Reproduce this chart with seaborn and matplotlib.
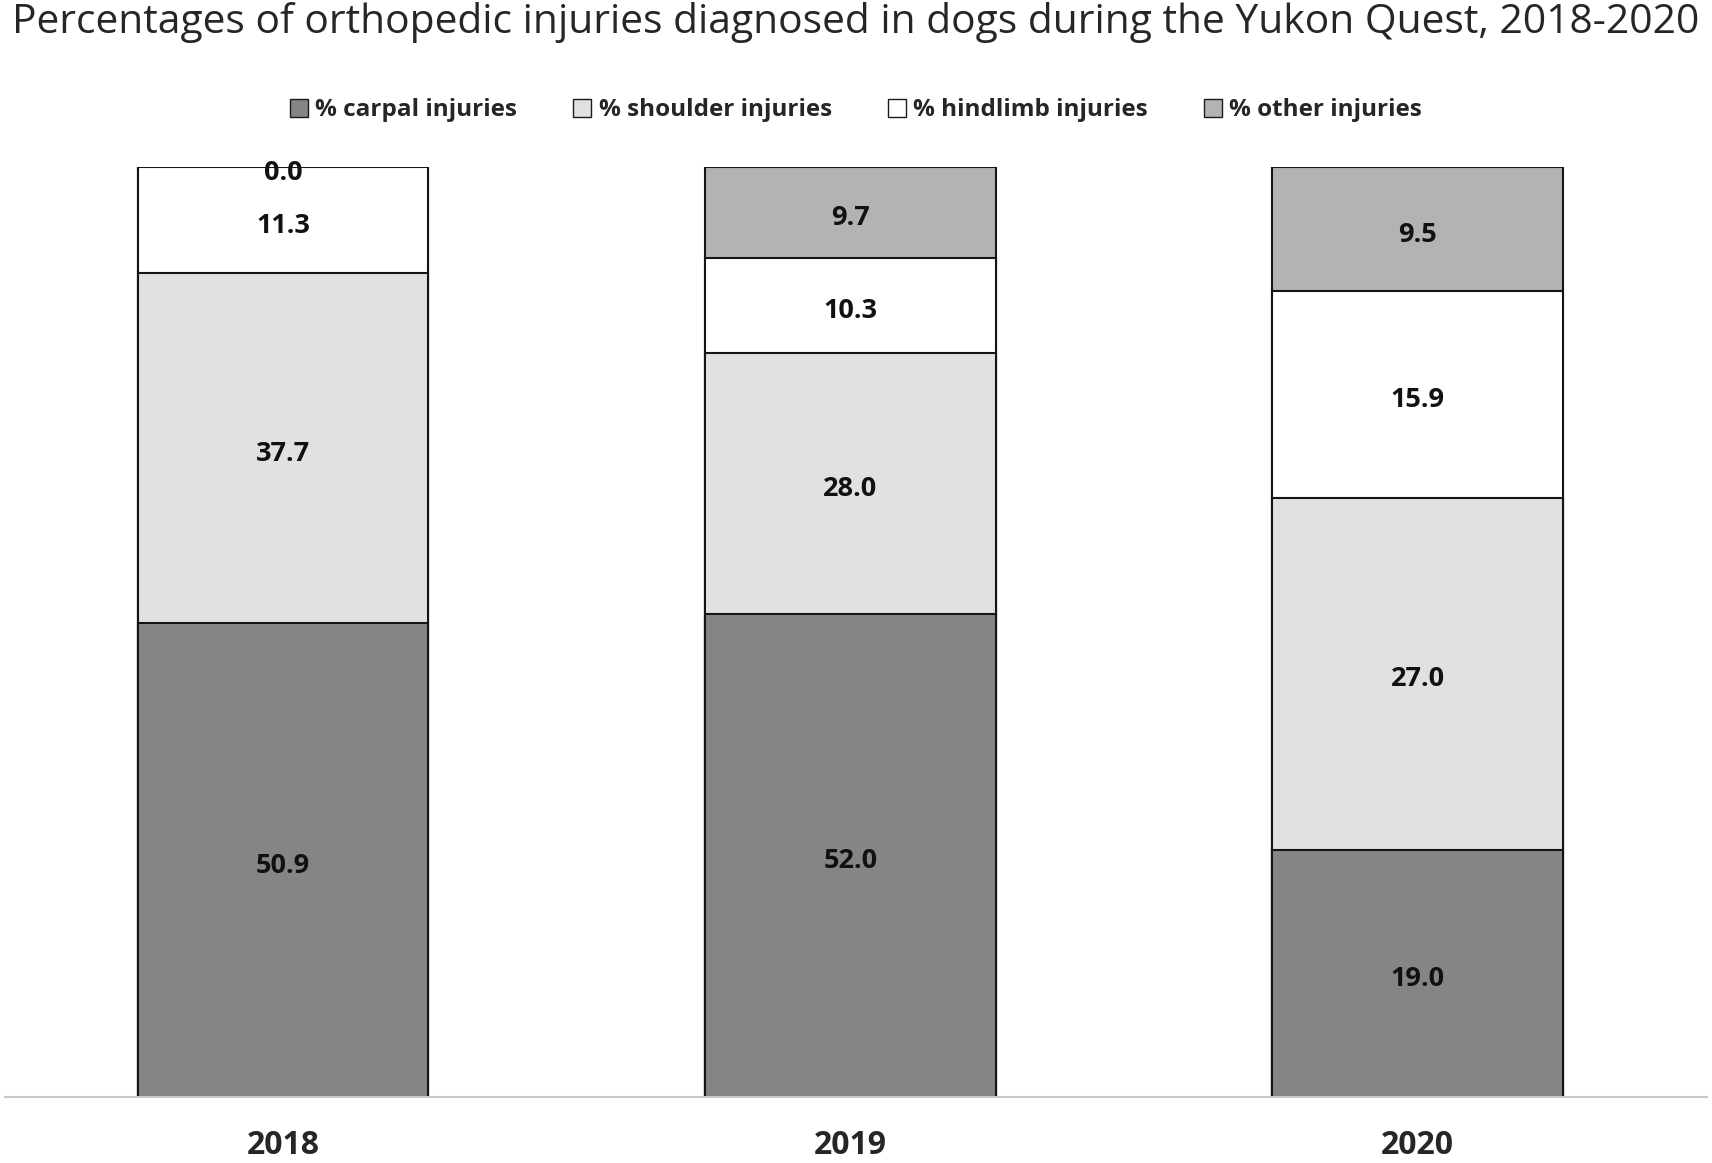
import numpy as np
import pandas as pd
import matplotlib
matplotlib.use('Agg')
import matplotlib.pyplot as plt
import seaborn as sns
from matplotlib.patches import Patch

years = ['2018', '2019', '2020']
categories = ['% carpal injuries', '% shoulder injuries', '% hindlimb injuries', '% other injuries']
carpal = [50.9, 52.0, 19.0]
shoulder = [37.7, 28.0, 27.0]
hindlimb = [11.3, 10.3, 15.9]
other = [0.0, 9.7, 9.5]
colors = ['#858585', '#e1e1e1', '#ffffff', '#b3b3b3']

df = pd.DataFrame({'Year': years, categories[0]: carpal, categories[1]: shoulder,
                   categories[2]: hindlimb, categories[3]: other}).set_index('Year')
# 100% stacked, like the original Excel chart
df_share = df.div(df.sum(axis=1), axis=0) * 100
df_cum = df_share.cumsum(axis=1)

sns.set_style('white')
plt.rcParams['font.family'] = ['Open Sans', 'DejaVu Sans']

fig, ax = plt.subplots(figsize=(17.12, 11.63), dpi=100)
fig.subplots_adjust(left=0.003, right=0.997, bottom=0.0568, top=0.856)

# draw from the top layer down so each bar covers the one above
for cat, col in reversed(list(zip(categories, colors))):
    sns.barplot(x=df_cum.index, y=df_cum[cat].values, ax=ax, color=col,
                edgecolor='#151515', linewidth=1.5, width=0.512, saturation=1)

for i, year in enumerate(years):
    for cat in categories:
        top = df_cum.loc[year, cat]
        h = df_share.loc[year, cat]
        ax.annotate(f'{df.loc[year, cat]:.1f}', (i, top - h / 2), xytext=(0, -4),
                    textcoords='offset points', ha='center', va='center',
                    fontsize=19.5, fontweight='bold', color='#111111')

ax.set_ylim(0, 100)
ax.set_xlim(-0.49, 2.51)
ax.set_yticks([])
ax.set_xlabel('')
ax.set_ylabel('')
for side in ['top', 'left', 'right']:
    ax.spines[side].set_visible(False)
ax.spines['bottom'].set_color('#c8c8c8')
ax.spines['bottom'].set_linewidth(1.5)
ax.tick_params(axis='x', length=0, pad=23)
for lbl in ax.get_xticklabels():
    lbl.set_fontsize(23)
    lbl.set_fontweight('bold')

handles = [Patch(facecolor=c, edgecolor='#1a1a1a', linewidth=1.0) for c in colors]
fig.legend(handles, categories, loc='center', bbox_to_anchor=(0.5, 0.905), ncol=4, frameon=False,
           prop={'size': 17.5, 'weight': 'bold'}, handlelength=0.75, handleheight=0.75,
           handletextpad=0.3, columnspacing=2.3)

fig.suptitle('Percentages of orthopedic injuries diagnosed in dogs during the Yukon Quest, 2018-2020',
             fontsize=29.3, y=0.981, x=0.5, va='center')

fig.savefig('out.png', dpi=100)
